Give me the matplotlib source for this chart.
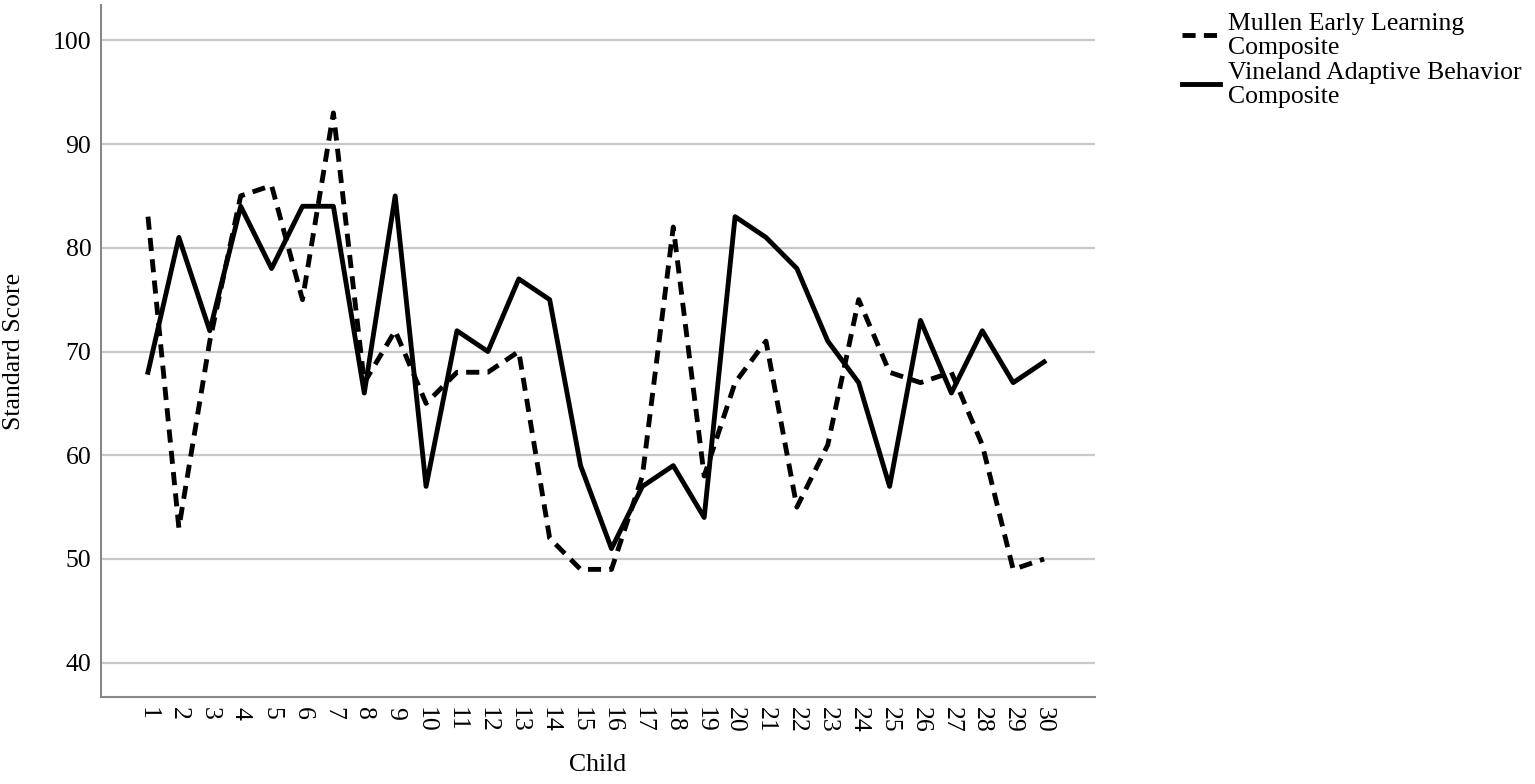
import matplotlib
matplotlib.use('Agg')
import matplotlib.pyplot as plt

plt.rcParams['font.family'] = ['Liberation Serif', 'DejaVu Serif']

# data
child = list(range(1, 31))
mullen = [83, 53, 71, 85, 86, 75, 93, 67, 72, 65,
          68, 68, 70, 52, 49, 49, 58, 82, 58, 67,
          71, 55, 61, 75, 68, 67, 68, 61, 49, 50]
vineland = [68, 81, 72, 84, 78, 84, 84, 66, 85, 57,
            72, 70, 77, 75, 59, 51, 57, 59, 54, 83,
            81, 78, 71, 67, 57, 73, 66, 72, 67, 69]
yticks = [40, 50, 60, 70, 80, 90, 100]

fs = 18.5

fig = plt.figure(figsize=(15.35, 7.84), dpi=100)
ax = fig.add_axes([0.0658, 0.111, 0.6476, 0.8826])

ax.plot(child, mullen, color='black', lw=3.5, ls=(0, (2.7, 1.7)),
        label='Mullen Early Learning\nComposite')
ax.plot(child, vineland, color='black', lw=3.5, ls='-',
        label='Vineland Adaptive Behavior\nComposite')

ax.set_xlim(-0.52, 31.65)
ax.set_ylim(36.7, 103.4)
ax.set_yticks(yticks)
ax.set_xticks(child)
ax.set_xticklabels([str(c) for c in child], rotation=-90, fontsize=fs)
ax.tick_params(axis='y', labelsize=fs, length=0, pad=7)
ax.tick_params(axis='x', length=0, pad=7)
ax.grid(axis='y', color='#c8c8c8', lw=1.6)
ax.set_axisbelow(True)

for s in ['top', 'right']:
    ax.spines[s].set_visible(False)
for s in ['left', 'bottom']:
    ax.spines[s].set_color('#888888')
    ax.spines[s].set_linewidth(1.5)

ax.set_ylabel('Standard Score', fontsize=fs)
ax.set_xlabel('Child', fontsize=fs)
ax.yaxis.set_label_coords(-0.0765, 0.5)
ax.xaxis.set_label_coords(0.5, -0.083)

leg = fig.legend(loc='upper left', bbox_to_anchor=(0.770, 0.984), frameon=False,
                 fontsize=fs, handlelength=1.5, handletextpad=0.3, labelspacing=0.12,
                 borderaxespad=0, borderpad=0)
for t in leg.get_texts():
    t.set_linespacing(1.12)

fig.savefig('out.png', dpi=100)
